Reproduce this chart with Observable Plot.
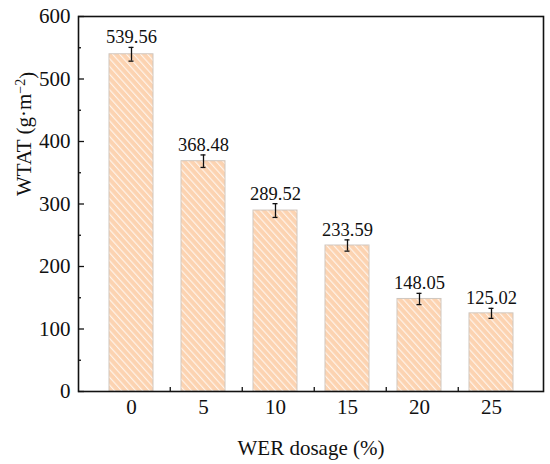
<!DOCTYPE html>
<html>
<head>
<meta charset="utf-8">
<script src="https://cdn.jsdelivr.net/npm/d3@7"></script>
<script src="https://cdn.jsdelivr.net/npm/@observablehq/plot@0.6"></script>
<style>
  body { margin: 0; background: #fff; }
  svg, svg text { font-family: "Liberation Serif", "Times New Roman", serif !important; }
</style>
</head>
<body>
<div id="chart"></div>
<script>
const dosages = ["0", "5", "10", "15", "20", "25"];
const wtat = [539.56, 368.48, 289.52, 233.59, 148.05, 125.02];
const errors = [11, 10, 11, 9, 9, 8];
const yTicks = [0, 100, 200, 300, 400, 500, 600];
const yMinorTicks = [50, 150, 250, 350, 450, 550];

const data = dosages.map((d, i) => ({dosage: d, value: wtat[i], err: errors[i]}));
const serif = "Liberation Serif, Times New Roman, serif";

const chart = Plot.plot({
  width: 550,
  height: 464,
  marginLeft: 78,
  marginRight: 7,
  marginTop: 16,
  marginBottom: 73,
  style: {fontFamily: serif, background: "#fff", color: "#111"},
  x: {domain: dosages, padding: 0.39, align: 0.5, label: null},
  y: {domain: [0, 600], label: null},
  marks: [
    Plot.barY(data, {x: "dosage", y: "value", fill: "#fcd3b1", stroke: "#cfc7c0", strokeWidth: 1}),
    Plot.barY(data, {x: "dosage", y: "value", fill: "url(#hatch)", insetLeft: 0.5, insetRight: 0.5, insetTop: 0.5}),
    Plot.ruleX(data, {x: "dosage", y1: d => d.value - d.err, y2: d => d.value + d.err, stroke: "#111", strokeWidth: 1.3}),
    Plot.tickY(data, {x: "dosage", y: d => d.value + d.err, stroke: "#111", strokeWidth: 1.3, insetLeft: 19.5, insetRight: 19.5}),
    Plot.tickY(data, {x: "dosage", y: d => d.value - d.err, stroke: "#111", strokeWidth: 1.3, insetLeft: 19.5, insetRight: 19.5}),
    Plot.text(data, {x: "dosage", y: d => d.value + d.err, text: d => d.value.toFixed(2), dy: -4, lineAnchor: "bottom", fontSize: 18.5, fontFamily: serif, fill: "#111"}),
    Plot.axisY({ticks: yTicks, tickSize: 0, tickPadding: 8, fontSize: 21, fontFamily: serif, label: null, tickFormat: d => d}),
    Plot.axisY({ticks: yTicks, tickSize: -6, text: null, label: null, strokeWidth: 1.3}),
    Plot.axisY({ticks: yMinorTicks, tickSize: -3, text: null, label: null, strokeWidth: 1.3}),
    Plot.axisX({tickSize: 0, tickPadding: 8, fontSize: 21, fontFamily: serif, label: null}),
    Plot.axisX({ticks: dosages.slice(0, 5), tickSize: -4, text: null, label: null, dx: 38.75, strokeWidth: 1.3}),
    Plot.frame({stroke: "#111", strokeWidth: 1.6}),
    Plot.text(["WER dosage (%)"], {frameAnchor: "bottom", dy: 63, fontSize: 21, fontFamily: serif, lineAnchor: "bottom", fill: "#111"}),
    Plot.text(["WTAT (g·m−2)"], {frameAnchor: "left", dx: -54, dy: -8, rotate: -90, fontSize: 21, fontFamily: serif, fill: "#111"})
  ]
});

// hatch pattern definition
const ns = "http://www.w3.org/2000/svg";
const defs = document.createElementNS(ns, "defs");
defs.innerHTML = `<pattern id="hatch" patternUnits="userSpaceOnUse" width="5.2" height="5.2" patternTransform="rotate(-42)">
  <line x1="0.6" y1="0" x2="0.6" y2="5.2" stroke="#ffffff" stroke-opacity="0.85" stroke-width="1"/>
</pattern>`;
chart.insertBefore(defs, chart.firstChild);

// superscript in y title
chart.querySelectorAll("text").forEach(t => {
  if (t.textContent === "WTAT (g·m−2)") {
    t.textContent = "";
    const a = document.createElementNS(ns, "tspan");
    a.textContent = "WTAT (g·m";
    const b = document.createElementNS(ns, "tspan");
    b.textContent = "−2";
    b.setAttribute("dy", "-0.45em");
    b.setAttribute("font-size", "14");
    const c = document.createElementNS(ns, "tspan");
    c.textContent = ")";
    c.setAttribute("dy", "0.45em");
    t.append(a, b, c);
  }
});

document.getElementById("chart").append(chart);
</script>
</body>
</html>
